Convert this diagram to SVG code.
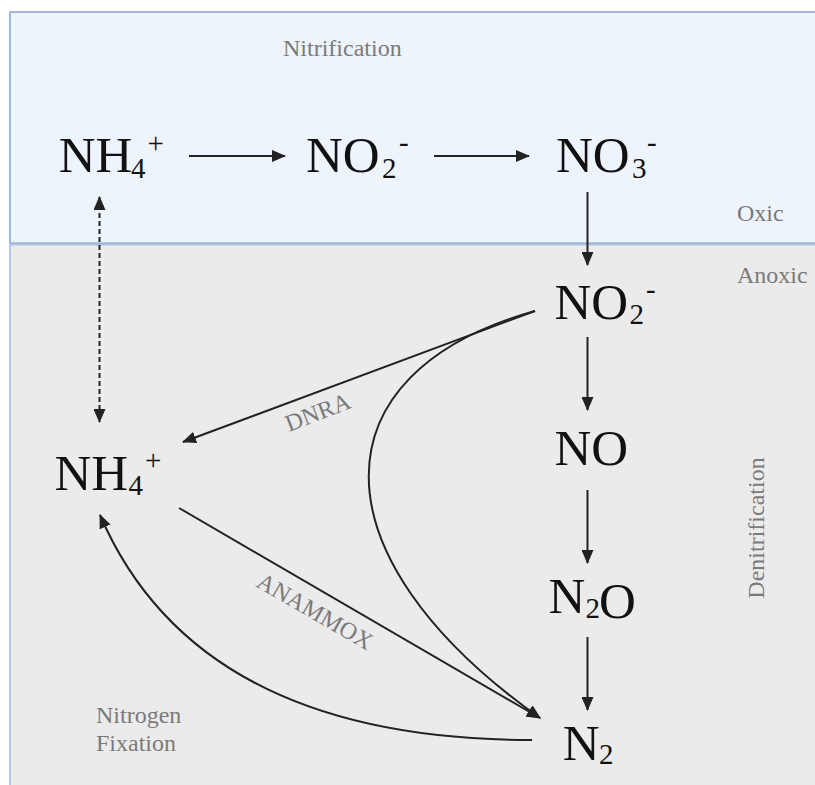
<svg xmlns="http://www.w3.org/2000/svg" width="815" height="785" viewBox="0 0 815 785">
<style>
.chem{font-family:"Liberation Serif","Times New Roman",serif;font-size:51px;fill:#111}
.sub{font-size:29px}
.lbl{font-family:"Liberation Serif","Times New Roman",serif;font-size:24px;fill:#7a7a7a}
.ar{fill:none;stroke:#222;stroke-width:2}
</style>
<defs>
<marker id="ah" viewBox="0 0 14 12" refX="13" refY="6" markerWidth="14" markerHeight="12" markerUnits="userSpaceOnUse" orient="auto-start-reverse">
<path d="M0,0 L14,6 L0,12 Z" fill="#222"/>
</marker>
</defs>
<g id="zones">
<rect x="10" y="12" width="820" height="231.5" fill="#edf4fc" stroke="#a3b7de" stroke-width="2"/>
<rect x="10" y="244.5" width="820" height="560" fill="#ebebeb" stroke="#b6c8e4" stroke-width="2"/>
<line x1="10" y1="243.5" x2="815" y2="243.5" stroke="#a3b7de" stroke-width="2"/>
</g>
<g id="labels">
<text class="lbl" x="283" y="56">Nitrification</text>
<text class="lbl" x="737" y="221">Oxic</text>
<text class="lbl" x="737" y="283">Anoxic</text>
<text class="lbl" text-anchor="middle" transform="translate(764,528) rotate(-90)">Denitrification</text>
<text class="lbl" x="96" y="723">Nitrogen</text>
<text class="lbl" x="96" y="751">Fixation</text>
<text class="lbl" transform="translate(289,432) rotate(-21)">DNRA</text>
<text class="lbl" transform="translate(255,586) rotate(30)">ANAMMOX</text>
</g>
<g id="node-nh4-top"><text class="chem" y="172"><tspan x="58.7">NH</tspan><tspan class="sub" x="131" y="177.5">4</tspan><tspan class="sub" x="147.5" y="153">+</tspan></text></g>
<g id="node-no2-top"><text class="chem" y="172"><tspan x="306">NO</tspan><tspan class="sub" x="382" y="177.5">2</tspan><tspan class="sub" x="399" y="152">-</tspan></text></g>
<g id="node-no3"><text class="chem" y="172"><tspan x="556">NO</tspan><tspan class="sub" x="632" y="177.5">3</tspan><tspan class="sub" x="647" y="152">-</tspan></text></g>
<g id="node-no2-low"><text class="chem" y="318.5"><tspan x="554.5">NO</tspan><tspan class="sub" x="629.5" y="324">2</tspan><tspan class="sub" x="646" y="299">-</tspan></text></g>
<g id="node-no"><text class="chem" x="554.5" y="465">NO</text></g>
<g id="node-n2o"><text class="chem" y="612.5"><tspan x="548.5">N</tspan><tspan class="sub" x="585.5" y="617.5">2</tspan><tspan x="599">O</tspan></text></g>
<g id="node-n2"><text class="chem" y="759.5"><tspan x="562.7">N</tspan><tspan class="sub" x="599" y="764">2</tspan></text></g>
<g id="node-nh4-low"><text class="chem" y="489.5"><tspan x="54.4">NH</tspan><tspan class="sub" x="128.5" y="494.5">4</tspan><tspan class="sub" x="145" y="470">+</tspan></text></g>
<g id="connectors">
<line class="ar" x1="189" y1="156" x2="285" y2="156" marker-end="url(#ah)"/>
<line class="ar" x1="434" y1="156" x2="529" y2="156" marker-end="url(#ah)"/>
<line class="ar" x1="587.5" y1="192" x2="587.5" y2="265" marker-end="url(#ah)"/>
<line class="ar" x1="587.5" y1="337" x2="587.5" y2="410" marker-end="url(#ah)"/>
<line class="ar" x1="587.5" y1="490" x2="587.5" y2="563" marker-end="url(#ah)"/>
<line class="ar" x1="587.5" y1="637" x2="587.5" y2="710" marker-end="url(#ah)"/>
<line class="ar" x1="99.5" y1="197" x2="99.5" y2="422" stroke-width="2.4" stroke-dasharray="5,3" marker-start="url(#ah)" marker-end="url(#ah)"/>
<line class="ar" x1="535" y1="311" x2="183" y2="442" marker-end="url(#ah)"/>
<line class="ar" x1="179" y1="508" x2="540" y2="718" marker-end="url(#ah)"/>
<path class="ar" d="M535,311 C315,372 310,555 540,718" marker-end="url(#ah)"/>
<path class="ar" d="M532,740 Q197,740 100,515" marker-end="url(#ah)"/>
</g>
</svg>
